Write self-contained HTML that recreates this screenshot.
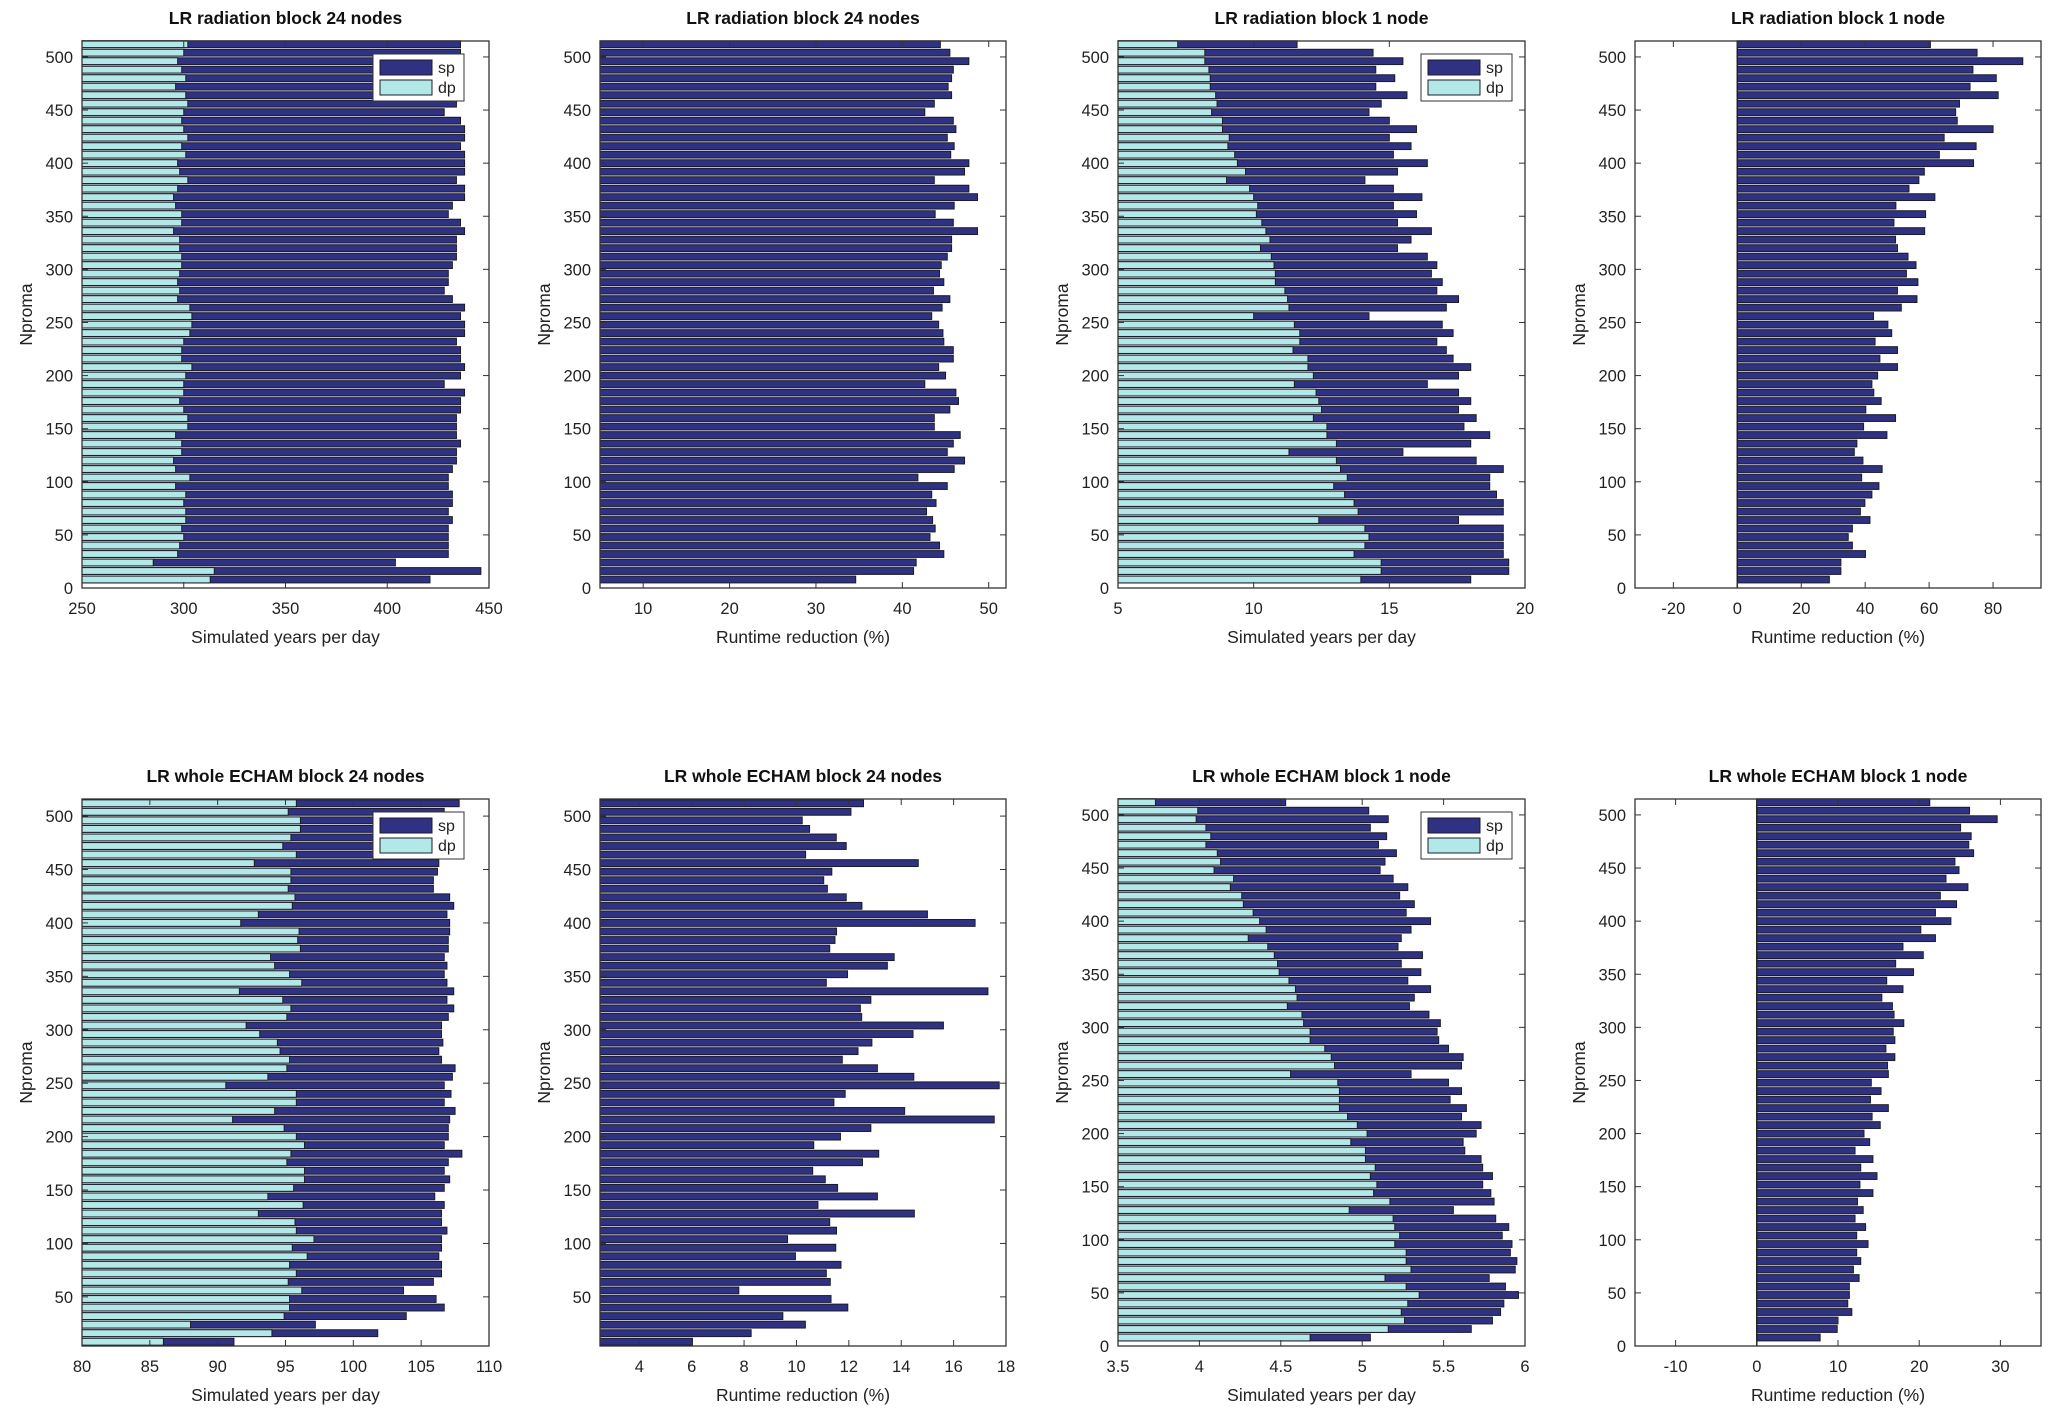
<!DOCTYPE html>
<html><head><meta charset="utf-8"><style>
html,body{margin:0;padding:0;background:#fff;}
svg{display:block;font-family:"Liberation Sans",Arial,sans-serif;}
</style></head><body>
<svg id="fig" width="2067" height="1419" viewBox="0 0 2067 1419" xmlns="http://www.w3.org/2000/svg"></svg>
<script>
const nproma = [512,504,496,488,480,472,464,456,448,440,432,424,416,408,400,392,384,376,368,360,352,344,336,328,320,312,304,296,288,280,272,264,256,248,240,232,224,216,208,200,192,184,176,168,160,152,144,136,128,120,112,104,96,88,80,72,64,56,48,40,32,24,16,8];
const p1sp = [436,436,436,436,436,436,435,434,428,436,438,438,436,438,438,438,434,438,438,432,430,436,438,434,434,434,432,430,430,428,432,438,436,438,438,434,436,436,438,436,428,438,436,436,434,434,434,436,434,434,432,430,430,432,432,430,432,430,430,430,430,404,446,421];
const p1dp = [302,300,297,299,301,296,301,302,300,299,300,302,299,301,297,298,302,297,295,296,299,299,295,298,298,299,299,298,297,298,297,303,304,304,303,300,299,299,304,301,300,300,298,300,302,302,296,299,299,295,296,303,296,301,300,301,301,299,300,298,297,285,315,313];
const p2red = [44.4,45.5,47.7,45.9,45.7,45.3,45.7,43.7,42.6,45.9,46.2,45.2,46.0,45.6,47.7,47.2,43.7,47.7,48.7,46.0,43.8,45.9,48.7,45.7,45.7,45.2,44.5,44.3,44.8,43.6,45.5,44.6,43.4,44.2,44.7,44.8,45.9,45.9,44.2,45.0,42.6,46.2,46.5,45.5,43.7,43.7,46.7,45.9,45.2,47.2,46.0,41.8,45.2,43.4,43.9,42.8,43.5,43.8,43.2,44.3,44.8,41.6,41.3,34.6];
const p3sp = [11.6,14.4,15.5,14.5,15.2,14.5,15.65,14.7,14.25,15.0,16.0,15.0,15.8,15.15,16.4,15.3,14.1,15.15,16.2,15.15,16.0,15.3,16.55,15.8,15.3,16.4,16.75,16.55,16.95,16.75,17.55,17.1,14.25,16.95,17.35,16.75,17.1,17.35,18.0,17.55,16.4,17.55,18.0,17.55,18.2,17.75,18.7,18.0,15.5,18.2,19.2,18.7,18.7,18.95,19.2,19.2,17.55,19.2,19.2,19.2,19.2,19.4,19.4,18.0];
const p3dp = [7.2,8.2,8.2,8.35,8.4,8.4,8.6,8.65,8.45,8.85,8.85,9.1,9.05,9.3,9.4,9.7,9.0,9.85,10.0,10.15,10.1,10.3,10.45,10.6,10.25,10.65,10.75,10.8,10.8,11.15,11.25,11.3,10.0,11.5,11.7,11.7,11.45,12.0,12.0,12.2,11.5,12.3,12.4,12.5,12.2,12.7,12.7,13.05,11.3,13.05,13.2,13.45,12.95,13.35,13.7,13.85,12.4,14.1,14.25,14.1,13.7,14.7,14.7,13.95];
const p4red = [60.4,75,89.3,73.7,81,72.8,81.6,69.5,68.3,68.8,80,64.7,74.7,63.2,73.9,58.5,56.8,53.7,61.8,49.6,58.9,49,58.6,49.5,50.1,53.4,55.9,52.9,56.5,50.1,56.2,51.3,42.6,47.1,48.3,43.1,50.1,44.6,50.1,43.9,42.1,42.7,45,40.2,49.5,39.5,46.8,37.4,36.6,39.3,45.3,38.9,44.3,42.1,39.9,38.5,41.5,36,34.7,36,40.1,32.4,32.4,28.8];
const p5sp = [107.8,106.7,106.5,106.3,106.2,106.3,106.4,106.3,106.2,105.9,105.9,107.1,107.4,106.9,107.1,107.1,107.0,107.0,106.7,106.9,106.7,106.9,107.4,106.9,107.4,107.0,106.5,106.5,106.6,106.3,106.5,107.5,107.3,106.7,107.2,106.7,107.5,107.1,107.0,107.0,106.7,108.0,107.0,106.7,107.1,106.7,106.0,106.7,106.5,106.5,106.9,106.5,106.5,106.3,106.5,106.5,105.9,103.7,106.1,106.7,103.9,97.2,101.8,91.2];
const p5dp = [95.8,95.2,96.1,96.1,95.4,94.8,95.8,92.7,95.4,95.4,95.2,95.7,95.5,93.0,91.7,96.0,95.9,96.1,93.9,94.2,95.3,96.2,91.6,94.8,95.4,95.1,92.1,93.1,94.4,94.6,95.3,95.1,93.7,90.6,95.8,95.8,94.2,91.1,94.9,95.8,96.4,95.4,95.1,96.4,96.4,95.6,93.7,96.3,93.0,95.7,95.8,97.1,95.5,96.6,95.3,95.8,95.2,96.2,95.3,95.3,94.9,88.0,94.0,86.0];
const p6red = [12.56,12.08,10.22,10.5,11.52,11.9,10.35,14.65,11.35,11.04,11.18,11.9,12.5,15.0,16.82,11.53,11.47,11.27,13.73,13.47,11.95,11.14,17.31,12.84,12.44,12.49,15.61,14.45,12.88,12.35,11.75,13.09,14.48,17.74,11.86,11.43,14.13,17.55,12.84,11.68,10.66,13.14,12.52,10.62,11.1,11.57,13.09,10.82,14.5,11.27,11.53,9.66,11.5,9.96,11.7,11.14,11.29,7.8,11.32,11.96,9.48,10.34,8.27,6.03];
const p7sp = [4.53,5.04,5.16,5.05,5.15,5.1,5.21,5.14,5.11,5.19,5.28,5.23,5.32,5.27,5.42,5.3,5.24,5.22,5.37,5.24,5.36,5.28,5.42,5.32,5.29,5.41,5.48,5.46,5.47,5.53,5.62,5.61,5.3,5.53,5.61,5.54,5.64,5.61,5.73,5.7,5.62,5.63,5.73,5.74,5.8,5.74,5.79,5.81,5.56,5.82,5.9,5.86,5.92,5.91,5.95,5.94,5.78,5.88,5.96,5.87,5.85,5.8,5.67,5.05];
const p7dp = [3.73,3.99,3.98,4.04,4.07,4.04,4.11,4.13,4.09,4.21,4.19,4.26,4.27,4.33,4.37,4.41,4.3,4.42,4.46,4.48,4.49,4.55,4.59,4.6,4.54,4.63,4.64,4.68,4.68,4.77,4.81,4.83,4.56,4.85,4.86,4.86,4.86,4.91,4.97,5.03,4.93,5.02,5.02,5.08,5.05,5.09,5.07,5.17,4.92,5.19,5.2,5.23,5.2,5.27,5.27,5.3,5.14,5.27,5.35,5.28,5.24,5.26,5.16,4.68];
const p8red = [21.3,26.2,29.6,25.1,26.4,26.1,26.7,24.4,24.9,23.3,26.0,22.6,24.6,22.0,23.9,20.2,22.0,18.0,20.5,17.1,19.3,16.0,18.0,15.4,16.7,16.9,18.1,16.8,17.0,15.9,17.0,16.1,16.2,14.1,15.3,14.0,16.2,14.2,15.2,13.2,13.9,12.1,14.3,12.8,14.8,12.7,14.3,12.4,13.1,12.1,13.4,12.3,13.7,12.3,12.8,11.9,12.6,11.4,11.4,11.2,11.7,10.0,9.9,7.8];
const yTicksFull = [0,50,100,150,200,250,300,350,400,450,500];
const yTicksNoZero = [50,100,150,200,250,300,350,400,450,500];
const xt1 = [250,300,350,400,450];
const xt2 = [10,20,30,40,50];
const xt3 = [5,10,15,20];
const xt4 = [-20,0,20,40,60,80];
const xt5 = [80,85,90,95,100,105,110];
const xt6 = [4,6,8,10,12,14,16,18];
const xt7 = [3.5,4,4.5,5,5.5,6];
const xt8 = [-10,0,10,20,30];

const NS = "http://www.w3.org/2000/svg";
const svg = document.getElementById('fig');
const SP = '#2f3183', DP = '#b2e8e8', EDGE = '#1c1c2a';
function mk(tag, attrs, parent){
  const e = document.createElementNS(NS, tag);
  for (const k in attrs) e.setAttribute(k, attrs[k]);
  (parent||svg).appendChild(e);
  return e;
}
const cols = [[82,489],[600,1006],[1118,1525],[1635,2041]];
const rows = [[41,588],[799,1346]];

function panel(o){
  const [L,R] = cols[o.col], [T,B] = rows[o.row];
  const g = mk('g', {});
  
  
  const X = v => L + (v - o.xl[0]) / (o.xl[1] - o.xl[0]) * (R - L);
  const Y = v => B - (v - o.yl[0]) / (o.yl[1] - o.yl[0]) * (B - T);
  mk('rect', {x:L, y:T, width:R-L, height:B-T, fill:'#fff'}, g);
  const base = Math.max(o.xl[0], 0);
  const hh = (Y(0) - Y(6.4));
  const series = o.series;
  series.forEach((s, si) => {
    s.vals.forEach((v, i) => {
      const yc = Y(nproma[i]);
      const x0 = X(base), x1 = X(v);
      const r = mk('rect', {x:Math.min(x0,x1), y:yc-hh/2, width:Math.abs(x1-x0), height:hh, fill:s.color, stroke:EDGE, 'stroke-width':1}, g);
      
      
    });
  });
  if (o.xl[0] < 0) mk('line', {x1:X(0), x2:X(0), y1:T, y2:B, stroke:'#222', 'stroke-width':1.5}, g);
  // axes box
  mk('rect', {x:L, y:T, width:R-L, height:B-T, fill:'none', stroke:'#333', 'stroke-width':1.3}, g);
  // ticks
  const tl = 6;
  o.xt.forEach(v => {
    const x = X(v);
    mk('line', {x1:x, x2:x, y1:B, y2:B-tl, stroke:'#333', 'stroke-width':1}, g);
    mk('line', {x1:x, x2:x, y1:T, y2:T+tl, stroke:'#333', 'stroke-width':1}, g);
    const t = mk('text', {x:x, y:B+26, 'font-size':16.5, 'text-anchor':'middle', fill:'#222'}, g);
    t.textContent = v;
    
    
  });
  o.yt.forEach(v => {
    const y = Y(v);
    mk('line', {x1:L, x2:L+tl, y1:y, y2:y, stroke:'#333', 'stroke-width':1}, g);
    mk('line', {x1:R, x2:R-tl, y1:y, y2:y, stroke:'#333', 'stroke-width':1}, g);
    const t = mk('text', {x:L-9, y:y+6, 'font-size':16.5, 'text-anchor':'end', fill:'#222'}, g);
    t.textContent = v;
    
    
  });
  const ti = mk('text', {x:(L+R)/2, y:T-17, 'font-size':17.5, 'font-weight':'bold', 'text-anchor':'middle', fill:'#111'}, g);
  ti.textContent = o.title;
  
  
  const xl = mk('text', {x:(L+R)/2, y:B+55, 'font-size':17.5, 'text-anchor':'middle', fill:'#222'}, g);
  xl.textContent = o.xlabel;
  
  
  const yc = (T+B)/2;
  const yl = mk('text', {x:L-50, y:yc, 'font-size':17.5, 'text-anchor':'middle', fill:'#222', transform:'rotate(-90 '+(L-50)+' '+yc+')'}, g);
  yl.textContent = 'Nproma';
  
  
  if (o.legendRight !== undefined){
    const lw = 91, lh = 47, lx = R - o.legendRight - lw, ly = T + 13;
    const lg = mk('g', {}, g);
    
    
    mk('rect', {x:lx, y:ly, width:lw, height:lh, fill:'#fff', stroke:'#333', 'stroke-width':1}, lg);
    [['sp',SP],['dp',DP]].forEach((e, k) => {
      const ey = ly + 6 + k*20;
      const en = mk('g', {}, lg);
      
      
      mk('rect', {x:lx+7, y:ey, width:52, height:15, fill:e[1], stroke:EDGE, 'stroke-width':1}, en);
      const t = mk('text', {x:lx+65, y:ey+13, 'font-size':16, fill:'#222'}, en);
      t.textContent = e[0];
    });
  }
}

panel({name:'panel-rad-24-years', row:0, col:0, xl:[250,450], yl:[0,515], xt:xt1, yt:yTicksFull, title:'LR radiation block 24 nodes', xlabel:'Simulated years per day', series:[{key:'sp',vals:p1sp,color:SP},{key:'dp',vals:p1dp,color:DP}], legendRight:25});
panel({name:'panel-rad-24-reduction', row:0, col:1, xl:[5,52], yl:[0,515], xt:xt2, yt:yTicksFull, title:'LR radiation block 24 nodes', xlabel:'Runtime reduction (%)', series:[{key:'reduction',vals:p2red,color:SP}]});
panel({name:'panel-rad-1-years', row:0, col:2, xl:[5,20], yl:[0,515], xt:xt3, yt:yTicksFull, title:'LR radiation block 1 node', xlabel:'Simulated years per day', series:[{key:'sp',vals:p3sp,color:SP},{key:'dp',vals:p3dp,color:DP}], legendRight:13});
panel({name:'panel-rad-1-reduction', row:0, col:3, xl:[-32,95], yl:[0,515], xt:xt4, yt:yTicksFull, title:'LR radiation block 1 node', xlabel:'Runtime reduction (%)', series:[{key:'reduction',vals:p4red,color:SP}]});
panel({name:'panel-echam-24-years', row:1, col:0, xl:[80,110], yl:[4,516], xt:xt5, yt:yTicksNoZero, title:'LR whole ECHAM block 24 nodes', xlabel:'Simulated years per day', series:[{key:'sp',vals:p5sp,color:SP},{key:'dp',vals:p5dp,color:DP}], legendRight:25});
panel({name:'panel-echam-24-reduction', row:1, col:1, xl:[2.5,18], yl:[4,516], xt:xt6, yt:yTicksNoZero, title:'LR whole ECHAM block 24 nodes', xlabel:'Runtime reduction (%)', series:[{key:'reduction',vals:p6red,color:SP}]});
panel({name:'panel-echam-1-years', row:1, col:2, xl:[3.5,6], yl:[0,515], xt:xt7, yt:yTicksFull, title:'LR whole ECHAM block 1 node', xlabel:'Simulated years per day', series:[{key:'sp',vals:p7sp,color:SP},{key:'dp',vals:p7dp,color:DP}], legendRight:13});
panel({name:'panel-echam-1-reduction', row:1, col:3, xl:[-15,35], yl:[0,515], xt:xt8, yt:yTicksFull, title:'LR whole ECHAM block 1 node', xlabel:'Runtime reduction (%)', series:[{key:'reduction',vals:p8red,color:SP}]});
</script>
</body></html>
